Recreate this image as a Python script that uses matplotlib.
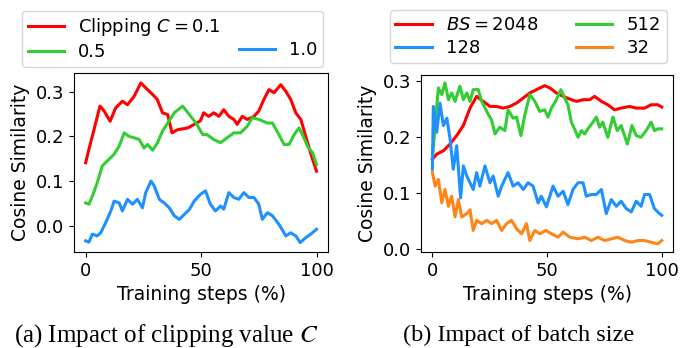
import matplotlib
matplotlib.use("Agg")
import matplotlib.pyplot as plt
from matplotlib.lines import Line2D

plt.rcParams['font.size'] = 13

# (a) clipping value
clip_red_x = [0, 1.4, 3.6, 6.2, 8, 10.6, 13, 15.9, 18.1, 21, 23.9, 26, 29, 31, 33.3, 35.5, 37.4, 39.8, 44.2, 47,
              49.7, 51.1, 53.3, 55.5, 57.7, 59.8, 62, 64.2, 65.6, 67.8, 70, 72.9, 75, 77.2, 79.4, 81.6, 84.5, 86.7,
              88.8, 91, 93.2, 96.1, 98.3, 100]
clip_red_y = [.141, .171, .215, .268, .257, .234, .264, .279, .271, .29, .32, .309, .294, .283, .253, .249, .208,
              .215, .219, .227, .235, .253, .245, .253, .245, .26, .245, .238, .227, .245, .238, .245, .257, .283,
              .305, .298, .316, .301, .283, .253, .238, .186, .148, .122]

clip_green_x = [0, 1.4, 2.9, 5, 7.2, 9.4, 12.3, 14.5, 16.7, 18.8, 21, 23.2, 25.3, 26.8, 29, 31.1, 33.3, 35.5, 38.4,
                42, 44.9, 47.8, 50.7, 52.6, 55.5, 58.4, 61.3, 64.2, 67.1, 70, 72.2, 75, 78.7, 80.9, 83.7, 85.9,
                88.1, 90.3, 92.4, 93.9, 96.1, 98.3, 100]
clip_green_y = [.051, .048, .066, .096, .134, .145, .160, .178, .208, .2, .197, .193, .174, .182, .169, .186, .212,
                .23, .253, .268, .249, .23, .204, .204, .193, .186, .197, .208, .208, .223, .242, .238, .23, .23,
                .204, .182, .182, .204, .219, .204, .178, .163, .137]

clip_blue_x = [0, 1.4, 2.9, 5, 6.5, 8.7, 10.9, 12.3, 14.5, 15.9, 18.1, 20.3, 22.4, 24.6, 26, 28.3, 29.7, 31.9, 34,
               36.2, 38.4, 40.6, 42.7, 44.9, 47, 49.7, 51.9, 54, 56.2, 58.4, 59.8, 62, 64.2, 66.3, 68.5, 70.7, 72.9,
               75, 76.5, 78.7, 80.9, 83.7, 86.7, 88.8, 91, 92.9, 95.3, 97.5, 100]
clip_blue_y = [-.034, -.037, -.019, -.023, -.016, .007, .033, .055, .051, .033, .059, .048, .059, .040, .074, .1,
               .089, .059, .051, .04, .022, .014, .025, .036, .055, .07, .078, .048, .033, .044, .037, .074, .063,
               .059, .074, .063, .063, .048, .014, .029, .022, .003, -.023, -.016, -.023, -.038, -.027, -.019, -.008]

# (b) batch size
bs_red_x = [0, 1.9, 4.8, 7.7, 10.6, 13.5, 16.4, 19.3, 22.2, 25.1, 28, 30.9, 33.8, 36.7, 39.6, 42.5, 45.4, 49, 51.2,
            54.1, 57, 60.6, 62.8, 65.7, 68.6, 70.7, 73.7, 76.5, 79.4, 82.3, 86, 88.9, 92.5, 95.4, 98.3, 100]
bs_red_y = [.16, .169, .175, .187, .202, .22, .251, .272, .263, .254, .254, .251, .254, .26, .269, .278, .284, .291,
            .287, .278, .272, .266, .263, .266, .266, .272, .263, .257, .248, .251, .254, .251, .251, .257, .257, .253]

bs_green_x = [0, 1.2, 2.6, 4.1, 5.5, 7, 8.4, 9.9, 12, 13.5, 15, 16.4, 17.8, 20, 21.5, 23.7, 25.8, 27.3, 29.4, 31.6,
              33, 35.2, 36.7, 38.6, 40.3, 42.5, 44.7, 46.8, 49, 50.4, 51.9, 54.1, 56, 57.7, 59.1, 60.6, 62, 63.5, 65,
              66.4, 67.8, 70, 71.5, 72.9, 74.3, 76.5, 78.7, 80.6, 82.3, 85, 87, 88.9, 91, 93.2, 95.4, 96.8, 98.3, 100]
bs_green_y = [.162, .22, .287, .275, .296, .266, .278, .263, .29, .266, .278, .263, .284, .284, .263, .245, .23, .205,
              .217, .211, .248, .233, .235, .202, .239, .275, .263, .245, .248, .235, .251, .266, .284, .269, .257,
              .226, .214, .199, .211, .205, .214, .226, .235, .217, .226, .199, .235, .211, .22, .187, .22, .202, .199,
              .211, .226, .211, .214, .214]

bs_blue_x = [0, 0.4, 1.9, 3.3, 4.8, 6.3, 7.7, 9.1, 10.6, 12.3, 13.5, 15, 16.4, 17.8, 19.3, 20.7, 22.9, 25.1, 26.5,
             28.7, 30.2, 33, 35.2, 37.4, 39.6, 41.7, 43.9, 46.1, 47.5, 49.7, 51.2, 52.6, 54.8, 57, 59.1, 61.3, 63.5,
             65.7, 67.1, 69.3, 71.5, 73.7, 75.8, 78, 80.2, 82.3, 84.5, 86.7, 88.9, 91, 92.5, 94.7, 96.8, 99, 100]
bs_blue_y = [.142, .254, .208, .26, .22, .233, .196, .142, .184, .091, .148, .13, .118, .106, .136, .112, .148, .118,
             .13, .094, .112, .136, .112, .118, .106, .118, .112, .082, .094, .075, .094, .112, .094, .103, .079, .106,
             .118, .118, .094, .097, .097, .106, .063, .088, .076, .085, .072, .066, .085, .076, .097, .097, .072,
             .063, .06]

bs_orange_x = [0, 1.2, 2.6, 4.1, 5.5, 7, 8.4, 9.9, 11.3, 12.8, 15, 16.4, 17.8, 19.3, 21.5, 23.7, 25.8, 28, 30.2,
               32.3, 34.5, 36.7, 38.9, 41, 42.5, 44.7, 46.8, 49.5, 51.9, 54.8, 57, 59.9, 63.5, 66.4, 69.3, 72.2,
               75.1, 78, 80.9, 83.8, 86.7, 89.6, 92.5, 95.4, 98.3, 100]
bs_orange_y = [.136, .112, .124, .082, .106, .076, .094, .057, .088, .057, .063, .07, .033, .051, .045, .051, .045,
               .051, .033, .045, .051, .036, .027, .045, .015, .033, .027, .033, .027, .021, .03, .021, .018, .021,
               .015, .021, .015, .018, .021, .015, .012, .015, .015, .012, .009, .015]

RED, GREEN, BLUE, ORANGE = "#ff0000", "#32cd32", "#1e90ff", "#ff8518"

fig = plt.figure(figsize=(6.8, 3.48), dpi=100)
ax1 = fig.add_axes([0.109, 0.276, 0.3735, 0.514])
ax2 = fig.add_axes([0.619, 0.276, 0.371, 0.509])

lw = 2.2
ax1.plot(clip_red_x, clip_red_y, color=RED, lw=lw)
ax1.plot(clip_green_x, clip_green_y, color=GREEN, lw=lw)
ax1.plot(clip_blue_x, clip_blue_y, color=BLUE, lw=lw)
ax1.set_ylim(-0.059, 0.342)
ax1.set_yticks([0.0, 0.1, 0.2, 0.3])
ax1.set_xticks([0, 50, 100])
ax1.set_xlabel("Training steps (%)", fontsize=13.5)
ax1.set_ylabel("Cosine Similarity", fontsize=13.5)

ax2.plot(bs_red_x, bs_red_y, color=RED, lw=lw)
ax2.plot(bs_green_x, bs_green_y, color=GREEN, lw=lw)
ax2.plot(bs_blue_x, bs_blue_y, color=BLUE, lw=lw)
ax2.plot(bs_orange_x, bs_orange_y, color=ORANGE, lw=lw)
ax2.set_yticks([0.0, 0.1, 0.2, 0.3])
ax2.set_xticks([0, 50, 100])
ax2.set_xlabel("Training steps (%)", fontsize=13.5)
ax2.set_ylabel("Cosine Similarity", fontsize=13.5)

# legends (blank slot so 1.0 sits on the second row)
blank = Line2D([], [], color="none")
h1 = [Line2D([], [], color=RED, lw=lw), Line2D([], [], color=GREEN, lw=lw),
      blank, Line2D([], [], color=BLUE, lw=lw)]
fig.legend(h1, [r"Clipping $C=0.1$", "0.5", "", "1.0"], ncol=2, loc="center",
           bbox_to_anchor=(0.254, 0.889), columnspacing=1.0, handletextpad=0.8,
           borderpad=0.3, labelspacing=0.3)

h2 = [Line2D([], [], color=c, lw=lw) for c in [RED, BLUE, GREEN, ORANGE]]
fig.legend(h2, [r"$BS=2048$", "128", "512", "32"], ncol=2, loc="center",
           bbox_to_anchor=(0.777, 0.895), columnspacing=2.1, handletextpad=0.8,
           borderpad=0.3, labelspacing=0.3)

fig.text(0.244, 0.037, r"(a) Impact of clipping value $C$", ha="center", va="center",
         family="Liberation Serif", fontsize=18, math_fontfamily="stix")
fig.text(0.763, 0.037, "(b) Impact of batch size", ha="center", va="center",
         family="Liberation Serif", fontsize=17.5)

fig.savefig("out.png", dpi=100)
